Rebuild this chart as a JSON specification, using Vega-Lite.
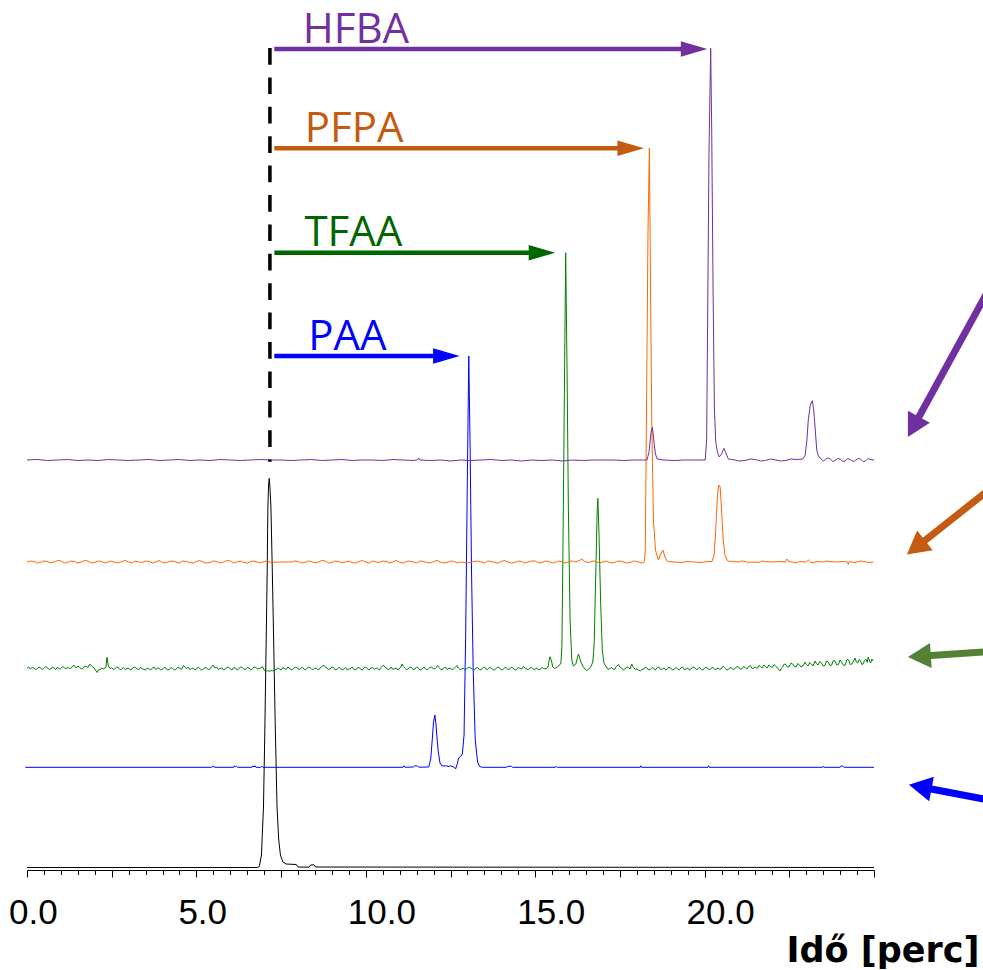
{
  "$schema": "https://vega.github.io/schema/vega-lite/v6.json",
  "width": 847,
  "height": 860,
  "autosize": "none",
  "padding": {"left": 27, "top": 10, "right": 109, "bottom": 100},
  "background": "white",
  "config": {"view": {"stroke": null}},
  "datasets": {
    "ref": [
      {"t":0,"v":0.25},{"t":6.8,"v":0.25},{"t":6.86,"v":0.35},{"t":6.92,"v":1.5},{"t":6.98,"v":6.3},{"t":7.02,"v":14},{"t":7.06,"v":23},{"t":7.09,"v":30},{"t":7.11,"v":36.3},{"t":7.13,"v":38.5},{"t":7.15,"v":39.17},{"t":7.17,"v":38.3},{"t":7.2,"v":36.3},{"t":7.24,"v":30},{"t":7.28,"v":23},{"t":7.33,"v":14},{"t":7.38,"v":6.3},{"t":7.43,"v":3},{"t":7.48,"v":1.5},{"t":7.55,"v":0.8},{"t":7.65,"v":0.6},{"t":7.95,"v":0.55},{"t":8.0,"v":0.3},{"t":8.32,"v":0.28},{"t":8.37,"v":0.5},{"t":8.47,"v":0.52},{"t":8.52,"v":0.3},{"t":25,"v":0.25}
    ],
    "paa": [
      {"t":-0.05,"v":10.27},{"t":5.45,"v":10.27},{"t":5.5,"v":10.42},{"t":5.53,"v":10.27},{"t":6.1,"v":10.27},{"t":6.12,"v":10.42},{"t":6.15,"v":10.3},{"t":6.18,"v":10.4},{"t":6.22,"v":10.27},{"t":6.64,"v":10.27},{"t":6.66,"v":10.4},{"t":6.7,"v":10.32},{"t":6.73,"v":10.42},{"t":6.76,"v":10.27},{"t":6.9,"v":10.27},{"t":6.93,"v":10.38},{"t":6.96,"v":10.27},{"t":11.1,"v":10.27},{"t":11.13,"v":10.42},{"t":11.16,"v":10.27},{"t":11.4,"v":10.3},{"t":11.44,"v":10.42},{"t":11.52,"v":10.42},{"t":11.56,"v":10.28},{"t":11.86,"v":10.3},{"t":11.92,"v":11.2},{"t":11.96,"v":13},{"t":12.0,"v":14.8},{"t":12.04,"v":15.5},{"t":12.07,"v":14.6},{"t":12.1,"v":13.3},{"t":12.14,"v":11.8},{"t":12.19,"v":10.7},{"t":12.25,"v":10.4},{"t":12.35,"v":10.42},{"t":12.45,"v":10.35},{"t":12.5,"v":10.42},{"t":12.6,"v":10.3},{"t":12.65,"v":10.1},{"t":12.7,"v":10.6},{"t":12.74,"v":11.2},{"t":12.8,"v":11.35},{"t":12.85,"v":11.6},{"t":12.9,"v":13.5},{"t":12.95,"v":24},{"t":13.0,"v":40},{"t":13.04,"v":51.4},{"t":13.08,"v":42},{"t":13.12,"v":30},{"t":13.17,"v":20},{"t":13.23,"v":13},{"t":13.3,"v":10.8},{"t":13.36,"v":10.35},{"t":13.45,"v":10.27},{"t":14.15,"v":10.27},{"t":14.2,"v":10.37},{"t":14.3,"v":10.37},{"t":14.33,"v":10.27},{"t":15.6,"v":10.27},{"t":15.62,"v":10.37},{"t":15.65,"v":10.27},{"t":18.1,"v":10.27},{"t":18.12,"v":10.42},{"t":18.14,"v":10.27},{"t":20.1,"v":10.27},{"t":20.12,"v":10.42},{"t":20.14,"v":10.27},{"t":23.48,"v":10.27},{"t":23.5,"v":10.37},{"t":23.52,"v":10.27},{"t":24.0,"v":10.27},{"t":24.03,"v":10.42},{"t":24.08,"v":10.37},{"t":24.12,"v":10.27},{"t":25,"v":10.27}
    ],
    "tfaa": [
      {"t":0.0,"v":20.15},{"t":0.05,"v":20.3},{"t":0.1,"v":20.1},{"t":0.15,"v":20.25},{"t":0.2,"v":20.2},{"t":0.25,"v":20.05},{"t":0.3,"v":20.12},{"t":0.35,"v":20.3},{"t":0.4,"v":20.22},{"t":0.45,"v":20.05},{"t":0.5,"v":20.15},{"t":0.55,"v":20.35},{"t":0.6,"v":20.25},{"t":0.65,"v":20.05},{"t":0.7,"v":20.1},{"t":0.75,"v":20.3},{"t":0.8,"v":20.2},{"t":0.85,"v":20.05},{"t":0.9,"v":20.28},{"t":0.95,"v":20.1},{"t":1.0,"v":20.15},{"t":1.05,"v":20.35},{"t":1.1,"v":20.22},{"t":1.15,"v":20.1},{"t":1.2,"v":20.3},{"t":1.25,"v":20.12},{"t":1.3,"v":20.18},{"t":1.38,"v":20.5},{"t":1.45,"v":20.2},{"t":1.5,"v":20.4},{"t":1.55,"v":20.3},{"t":1.6,"v":20.1},{"t":1.65,"v":20.15},{"t":1.7,"v":20.4},{"t":1.75,"v":20.35},{"t":1.8,"v":20.25},{"t":1.85,"v":20.6},{"t":1.9,"v":20.4},{"t":1.95,"v":20.3},{"t":2.0,"v":20.1},{"t":2.07,"v":19.75},{"t":2.12,"v":20.05},{"t":2.15,"v":20.0},{"t":2.2,"v":20.2},{"t":2.25,"v":20.1},{"t":2.33,"v":20.3},{"t":2.36,"v":21.27},{"t":2.4,"v":20.4},{"t":2.45,"v":20.15},{"t":2.5,"v":20.25},{"t":2.55,"v":20.05},{"t":2.6,"v":20.15},{"t":2.65,"v":20.3},{"t":2.7,"v":20.2},{"t":2.75,"v":20.05},{"t":2.8,"v":20.1},{"t":2.85,"v":20.25},{"t":2.9,"v":20.05},{"t":2.95,"v":20.15},{"t":3.0,"v":20.2},{"t":3.05,"v":20.0},{"t":3.1,"v":20.1},{"t":3.15,"v":20.3},{"t":3.2,"v":20.25},{"t":3.25,"v":20.1},{"t":3.3,"v":20.05},{"t":3.35,"v":20.25},{"t":3.4,"v":20.15},{"t":3.45,"v":20.05},{"t":3.5,"v":20.0},{"t":3.55,"v":20.2},{"t":3.6,"v":20.1},{"t":3.65,"v":20.0},{"t":3.7,"v":20.2},{"t":3.75,"v":20.3},{"t":3.8,"v":20.05},{"t":3.85,"v":20.2},{"t":3.9,"v":20.15},{"t":3.95,"v":20.0},{"t":4.0,"v":20.1},{"t":4.05,"v":20.25},{"t":4.1,"v":20.2},{"t":4.15,"v":20.0},{"t":4.2,"v":20.05},{"t":4.25,"v":20.25},{"t":4.3,"v":20.15},{"t":4.35,"v":20.0},{"t":4.4,"v":20.1},{"t":4.45,"v":20.25},{"t":4.5,"v":20.2},{"t":4.56,"v":20.05},{"t":4.62,"v":20.45},{"t":4.67,"v":20.25},{"t":4.7,"v":20.15},{"t":4.75,"v":20.3},{"t":4.8,"v":20.05},{"t":4.85,"v":20.15},{"t":4.9,"v":20.2},{"t":4.95,"v":20.0},{"t":5.0,"v":20.1},{"t":5.05,"v":20.3},{"t":5.1,"v":20.15},{"t":5.15,"v":20.0},{"t":5.2,"v":20.05},{"t":5.25,"v":20.25},{"t":5.3,"v":20.2},{"t":5.35,"v":20.05},{"t":5.4,"v":20.1},{"t":5.49,"v":20.5},{"t":5.55,"v":20.2},{"t":5.6,"v":20.3},{"t":5.65,"v":20.05},{"t":5.7,"v":20.15},{"t":5.75,"v":20.2},{"t":5.8,"v":20.0},{"t":5.85,"v":20.1},{"t":5.9,"v":20.25},{"t":5.95,"v":20.3},{"t":6.0,"v":20.1},{"t":6.05,"v":20.0},{"t":6.1,"v":20.25},{"t":6.15,"v":20.2},{"t":6.2,"v":20.0},{"t":6.25,"v":20.1},{"t":6.3,"v":20.3},{"t":6.35,"v":20.25},{"t":6.4,"v":20.1},{"t":6.45,"v":20.05},{"t":6.5,"v":20.25},{"t":6.55,"v":20.2},{"t":6.6,"v":20.0},{"t":6.65,"v":20.1},{"t":6.7,"v":20.3},{"t":6.75,"v":20.25},{"t":6.8,"v":20.1},{"t":6.85,"v":20.15},{"t":6.9,"v":20.2},{"t":6.95,"v":20.35},{"t":7.0,"v":20.0},{"t":7.05,"v":19.85},{"t":7.1,"v":19.95},{"t":7.15,"v":19.85},{"t":7.2,"v":19.95},{"t":7.25,"v":19.9},{"t":7.3,"v":20.05},{"t":7.35,"v":20.0},{"t":7.4,"v":20.2},{"t":7.45,"v":20.1},{"t":7.5,"v":20.0},{"t":7.55,"v":20.25},{"t":7.6,"v":20.15},{"t":7.65,"v":20.05},{"t":7.7,"v":20.3},{"t":7.75,"v":20.2},{"t":7.8,"v":20.0},{"t":7.85,"v":20.1},{"t":7.9,"v":20.25},{"t":7.95,"v":20.3},{"t":8.0,"v":20.1},{"t":8.05,"v":20.05},{"t":8.1,"v":20.25},{"t":8.15,"v":20.2},{"t":8.2,"v":20.0},{"t":8.25,"v":20.1},{"t":8.3,"v":20.3},{"t":8.35,"v":20.25},{"t":8.4,"v":20.1},{"t":8.45,"v":20.05},{"t":8.5,"v":20.2},{"t":8.55,"v":20.15},{"t":8.6,"v":20.0},{"t":8.65,"v":20.2},{"t":8.7,"v":20.3},{"t":8.75,"v":20.5},{"t":8.8,"v":20.3},{"t":8.85,"v":20.2},{"t":8.9,"v":20.05},{"t":8.95,"v":20.1},{"t":9.0,"v":20.3},{"t":9.05,"v":20.25},{"t":9.1,"v":20.0},{"t":9.15,"v":20.05},{"t":9.2,"v":20.25},{"t":9.25,"v":20.2},{"t":9.3,"v":20.0},{"t":9.35,"v":20.1},{"t":9.4,"v":20.25},{"t":9.45,"v":20.0},{"t":9.5,"v":20.1},{"t":9.55,"v":20.15},{"t":9.6,"v":20.3},{"t":9.65,"v":20.05},{"t":9.7,"v":20.0},{"t":9.75,"v":20.2},{"t":9.8,"v":20.25},{"t":9.85,"v":20.1},{"t":9.9,"v":20.0},{"t":9.95,"v":20.25},{"t":10.0,"v":20.3},{"t":10.05,"v":20.1},{"t":10.1,"v":20.0},{"t":10.15,"v":20.2},{"t":10.2,"v":20.25},{"t":10.25,"v":20.05},{"t":10.3,"v":20.2},{"t":10.35,"v":20.15},{"t":10.4,"v":20.0},{"t":10.45,"v":20.25},{"t":10.52,"v":20.5},{"t":10.56,"v":20.3},{"t":10.6,"v":20.2},{"t":10.65,"v":20.05},{"t":10.7,"v":20.1},{"t":10.75,"v":20.3},{"t":10.8,"v":20.05},{"t":10.85,"v":20.15},{"t":10.9,"v":20.2},{"t":10.94,"v":20.0},{"t":10.98,"v":20.1},{"t":11.03,"v":20.3},{"t":11.07,"v":20.6},{"t":11.11,"v":20.35},{"t":11.15,"v":20.2},{"t":11.2,"v":20.05},{"t":11.25,"v":20.1},{"t":11.3,"v":20.3},{"t":11.35,"v":20.25},{"t":11.4,"v":20.05},{"t":11.45,"v":20.1},{"t":11.5,"v":20.3},{"t":11.55,"v":20.2},{"t":11.6,"v":20.0},{"t":11.65,"v":20.05},{"t":11.7,"v":20.25},{"t":11.75,"v":20.2},{"t":11.8,"v":20.0},{"t":11.85,"v":20.15},{"t":11.9,"v":20.25},{"t":11.95,"v":20.3},{"t":12.0,"v":20.1},{"t":12.05,"v":20.15},{"t":12.12,"v":20.45},{"t":12.16,"v":20.25},{"t":12.2,"v":20.1},{"t":12.25,"v":20.0},{"t":12.3,"v":20.2},{"t":12.35,"v":20.3},{"t":12.4,"v":20.05},{"t":12.45,"v":20.15},{"t":12.5,"v":20.2},{"t":12.55,"v":20.0},{"t":12.6,"v":20.15},{"t":12.65,"v":20.3},{"t":12.69,"v":20.45},{"t":12.73,"v":20.2},{"t":12.78,"v":20.05},{"t":12.83,"v":20.1},{"t":12.88,"v":20.2},{"t":12.93,"v":20.0},{"t":12.98,"v":20.15},{"t":13.05,"v":20.3},{"t":13.1,"v":20.2},{"t":13.15,"v":20.1},{"t":13.2,"v":20.0},{"t":13.25,"v":20.2},{"t":13.3,"v":20.25},{"t":13.35,"v":20.05},{"t":13.4,"v":20.0},{"t":13.45,"v":20.2},{"t":13.5,"v":20.3},{"t":13.55,"v":20.1},{"t":13.6,"v":20.05},{"t":13.65,"v":20.25},{"t":13.7,"v":20.2},{"t":13.75,"v":20.05},{"t":13.8,"v":20.0},{"t":13.85,"v":20.15},{"t":13.9,"v":20.3},{"t":13.95,"v":20.2},{"t":14.0,"v":20.0},{"t":14.05,"v":20.05},{"t":14.1,"v":20.25},{"t":14.15,"v":20.2},{"t":14.2,"v":20.05},{"t":14.25,"v":20.1},{"t":14.3,"v":20.3},{"t":14.35,"v":20.2},{"t":14.4,"v":20.0},{"t":14.45,"v":20.05},{"t":14.5,"v":20.25},{"t":14.55,"v":20.15},{"t":14.6,"v":20.1},{"t":14.65,"v":20.35},{"t":14.7,"v":20.2},{"t":14.75,"v":20.1},{"t":14.8,"v":20.05},{"t":14.85,"v":20.2},{"t":14.9,"v":20.25},{"t":14.95,"v":20.05},{"t":15.0,"v":20.1},{"t":15.05,"v":20.2},{"t":15.1,"v":20.0},{"t":15.15,"v":20.1},{"t":15.2,"v":20.25},{"t":15.25,"v":20.15},{"t":15.32,"v":20.1},{"t":15.38,"v":20.3},{"t":15.41,"v":21.0},{"t":15.44,"v":21.33},{"t":15.48,"v":20.9},{"t":15.52,"v":20.3},{"t":15.58,"v":20.15},{"t":15.65,"v":20.3},{"t":15.72,"v":20.5},{"t":15.76,"v":20.7},{"t":15.79,"v":22.5},{"t":15.83,"v":36},{"t":15.87,"v":51},{"t":15.9,"v":61.73},{"t":15.94,"v":50},{"t":15.98,"v":36},{"t":16.03,"v":25},{"t":16.08,"v":21.0},{"t":16.13,"v":20.4},{"t":16.2,"v":20.6},{"t":16.25,"v":21.3},{"t":16.28,"v":21.6},{"t":16.33,"v":21.0},{"t":16.4,"v":20.4},{"t":16.47,"v":20.1},{"t":16.52,"v":19.95},{"t":16.58,"v":20.1},{"t":16.64,"v":20.3},{"t":16.7,"v":20.8},{"t":16.74,"v":22.5},{"t":16.79,"v":30},{"t":16.83,"v":36},{"t":16.85,"v":37.17},{"t":16.88,"v":34},{"t":16.93,"v":27},{"t":16.98,"v":22},{"t":17.03,"v":20.7},{"t":17.1,"v":20.3},{"t":17.15,"v":20.05},{"t":17.2,"v":20.15},{"t":17.25,"v":20.25},{"t":17.3,"v":20.1},{"t":17.34,"v":20.05},{"t":17.38,"v":20.3},{"t":17.46,"v":20.55},{"t":17.5,"v":20.3},{"t":17.55,"v":20.2},{"t":17.6,"v":20.0},{"t":17.65,"v":20.1},{"t":17.7,"v":20.3},{"t":17.75,"v":20.25},{"t":17.8,"v":20.1},{"t":17.85,"v":20.6},{"t":17.88,"v":20.35},{"t":17.92,"v":20.2},{"t":17.96,"v":20.05},{"t":18.0,"v":20.1},{"t":18.05,"v":20.0},{"t":18.1,"v":19.9},{"t":18.15,"v":20.05},{"t":18.2,"v":20.1},{"t":18.25,"v":20.3},{"t":18.3,"v":20.2},{"t":18.35,"v":20.0},{"t":18.4,"v":20.05},{"t":18.45,"v":20.25},{"t":18.5,"v":20.15},{"t":18.55,"v":20.0},{"t":18.6,"v":20.25},{"t":18.65,"v":20.3},{"t":18.7,"v":20.05},{"t":18.75,"v":20.1},{"t":18.8,"v":20.2},{"t":18.85,"v":20.0},{"t":18.9,"v":20.1},{"t":18.95,"v":20.3},{"t":19.0,"v":20.2},{"t":19.05,"v":20.0},{"t":19.1,"v":20.05},{"t":19.15,"v":20.25},{"t":19.2,"v":20.15},{"t":19.25,"v":20.0},{"t":19.3,"v":20.2},{"t":19.35,"v":20.3},{"t":19.4,"v":20.05},{"t":19.45,"v":20.1},{"t":19.5,"v":20.2},{"t":19.55,"v":20.0},{"t":19.6,"v":20.1},{"t":19.65,"v":20.3},{"t":19.7,"v":20.25},{"t":19.75,"v":20.05},{"t":19.8,"v":20.1},{"t":19.85,"v":20.25},{"t":19.9,"v":20.05},{"t":19.95,"v":20.0},{"t":20.0,"v":20.2},{"t":20.05,"v":20.3},{"t":20.1,"v":20.1},{"t":20.15,"v":20.0},{"t":20.2,"v":20.2},{"t":20.25,"v":20.25},{"t":20.3,"v":20.05},{"t":20.35,"v":20.1},{"t":20.4,"v":20.2},{"t":20.45,"v":20.05},{"t":20.5,"v":20.15},{"t":20.55,"v":20.4},{"t":20.58,"v":20.3},{"t":20.62,"v":20.15},{"t":20.66,"v":20.0},{"t":20.7,"v":20.05},{"t":20.75,"v":20.25},{"t":20.8,"v":20.2},{"t":20.85,"v":20.05},{"t":20.9,"v":20.15},{"t":20.95,"v":20.35},{"t":21.0,"v":20.3},{"t":21.05,"v":20.1},{"t":21.1,"v":20.1},{"t":21.15,"v":20.35},{"t":21.2,"v":20.25},{"t":21.25,"v":20.1},{"t":21.3,"v":20.35},{"t":21.35,"v":20.45},{"t":21.4,"v":20.15},{"t":21.45,"v":20.2},{"t":21.5,"v":20.3},{"t":21.55,"v":20.15},{"t":21.6,"v":20.45},{"t":21.65,"v":20.35},{"t":21.7,"v":20.2},{"t":21.75,"v":20.5},{"t":21.8,"v":20.35},{"t":21.85,"v":20.2},{"t":21.9,"v":20.5},{"t":21.95,"v":20.35},{"t":22.0,"v":20.25},{"t":22.05,"v":20.55},{"t":22.1,"v":20.4},{"t":22.15,"v":20.2},{"t":22.23,"v":19.9},{"t":22.27,"v":20.2},{"t":22.3,"v":20.3},{"t":22.35,"v":20.6},{"t":22.4,"v":20.55},{"t":22.45,"v":20.3},{"t":22.5,"v":20.35},{"t":22.55,"v":20.7},{"t":22.6,"v":20.6},{"t":22.65,"v":20.35},{"t":22.7,"v":20.3},{"t":22.75,"v":20.65},{"t":22.8,"v":20.5},{"t":22.85,"v":20.3},{"t":22.9,"v":20.4},{"t":22.97,"v":20.8},{"t":23.0,"v":20.55},{"t":23.05,"v":20.4},{"t":23.1,"v":20.75},{"t":23.15,"v":20.6},{"t":23.2,"v":20.4},{"t":23.26,"v":20.9},{"t":23.3,"v":20.65},{"t":23.35,"v":20.5},{"t":23.4,"v":20.85},{"t":23.45,"v":20.7},{"t":23.5,"v":20.4},{"t":23.55,"v":20.45},{"t":23.6,"v":20.9},{"t":23.65,"v":20.8},{"t":23.7,"v":20.45},{"t":23.75,"v":20.5},{"t":23.8,"v":20.95},{"t":23.85,"v":20.9},{"t":23.9,"v":20.5},{"t":23.95,"v":20.55},{"t":24.0,"v":21.0},{"t":24.05,"v":20.75},{"t":24.1,"v":20.45},{"t":24.15,"v":20.5},{"t":24.2,"v":21.05},{"t":24.25,"v":21.0},{"t":24.3,"v":20.55},{"t":24.35,"v":20.6},{"t":24.4,"v":20.9},{"t":24.44,"v":21.2},{"t":24.48,"v":20.8},{"t":24.52,"v":20.7},{"t":24.56,"v":21.05},{"t":24.6,"v":20.95},{"t":24.64,"v":20.55},{"t":24.68,"v":20.6},{"t":24.72,"v":20.95},{"t":24.76,"v":21.1},{"t":24.8,"v":20.75},{"t":24.83,"v":21.3},{"t":24.87,"v":20.9},{"t":24.9,"v":20.7},{"t":24.94,"v":21.1},{"t":24.98,"v":20.9}
    ],
    "pfpa": [
      {"t":0,"v":30.8},{"t":0.1,"v":30.9},{"t":0.2,"v":30.85},{"t":0.3,"v":30.7},{"t":0.4,"v":30.75},{"t":0.5,"v":30.9},{"t":0.6,"v":30.85},{"t":0.7,"v":30.7},{"t":0.8,"v":30.8},{"t":0.9,"v":30.95},{"t":1.0,"v":30.9},{"t":1.1,"v":30.7},{"t":1.2,"v":30.75},{"t":1.3,"v":30.9},{"t":1.4,"v":30.85},{"t":1.5,"v":30.7},{"t":1.6,"v":30.8},{"t":1.7,"v":30.95},{"t":1.8,"v":30.9},{"t":1.9,"v":30.7},{"t":2.0,"v":30.75},{"t":2.1,"v":30.9},{"t":2.2,"v":30.85},{"t":2.3,"v":30.7},{"t":2.4,"v":30.8},{"t":2.5,"v":30.9},{"t":2.6,"v":30.75},{"t":2.7,"v":30.7},{"t":2.8,"v":30.85},{"t":2.9,"v":30.95},{"t":3.0,"v":30.8},{"t":3.1,"v":30.7},{"t":3.2,"v":30.9},{"t":3.3,"v":30.8},{"t":3.4,"v":30.75},{"t":3.5,"v":30.9},{"t":3.6,"v":30.85},{"t":3.7,"v":30.7},{"t":3.8,"v":30.8},{"t":3.9,"v":30.95},{"t":4.0,"v":30.75},{"t":4.1,"v":30.7},{"t":4.2,"v":30.85},{"t":4.3,"v":30.9},{"t":4.4,"v":30.8},{"t":4.5,"v":30.7},{"t":4.6,"v":30.9},{"t":4.7,"v":30.85},{"t":4.8,"v":30.75},{"t":4.9,"v":30.7},{"t":5.0,"v":30.85},{"t":5.1,"v":30.95},{"t":5.2,"v":30.8},{"t":5.3,"v":30.7},{"t":5.4,"v":30.75},{"t":5.5,"v":30.9},{"t":5.6,"v":30.85},{"t":5.7,"v":30.7},{"t":5.8,"v":30.8},{"t":5.9,"v":30.95},{"t":6.0,"v":30.9},{"t":6.1,"v":30.7},{"t":6.2,"v":30.8},{"t":6.3,"v":30.9},{"t":6.4,"v":30.75},{"t":6.5,"v":30.7},{"t":6.6,"v":30.85},{"t":6.7,"v":30.9},{"t":6.8,"v":30.8},{"t":6.9,"v":30.7},{"t":7.0,"v":30.85},{"t":7.1,"v":30.9},{"t":7.2,"v":30.75},{"t":7.4,"v":30.8},{"t":7.6,"v":30.8},{"t":7.8,"v":30.8},{"t":7.9,"v":30.9},{"t":8.0,"v":30.85},{"t":8.1,"v":30.7},{"t":8.2,"v":30.75},{"t":8.3,"v":30.9},{"t":8.4,"v":30.85},{"t":8.5,"v":30.7},{"t":8.6,"v":30.8},{"t":8.7,"v":30.95},{"t":8.8,"v":30.9},{"t":8.9,"v":30.7},{"t":9.0,"v":30.75},{"t":9.1,"v":30.9},{"t":9.2,"v":30.85},{"t":9.3,"v":30.7},{"t":9.4,"v":30.8},{"t":9.5,"v":30.9},{"t":9.6,"v":30.75},{"t":9.7,"v":30.7},{"t":9.8,"v":30.85},{"t":9.9,"v":30.95},{"t":10.0,"v":30.8},{"t":10.1,"v":30.7},{"t":10.2,"v":30.9},{"t":10.3,"v":30.8},{"t":10.4,"v":30.75},{"t":10.5,"v":30.9},{"t":10.6,"v":30.85},{"t":10.7,"v":30.7},{"t":10.8,"v":30.8},{"t":10.9,"v":30.95},{"t":11.0,"v":30.75},{"t":11.1,"v":30.7},{"t":11.2,"v":30.85},{"t":11.3,"v":30.9},{"t":11.4,"v":30.8},{"t":11.5,"v":30.7},{"t":11.6,"v":30.9},{"t":11.7,"v":30.85},{"t":11.8,"v":30.75},{"t":11.9,"v":30.7},{"t":12.0,"v":30.85},{"t":12.1,"v":30.95},{"t":12.2,"v":30.8},{"t":12.3,"v":30.7},{"t":12.4,"v":30.75},{"t":12.5,"v":30.9},{"t":12.6,"v":30.85},{"t":12.7,"v":30.7},{"t":12.8,"v":30.8},{"t":13.0,"v":30.7},{"t":13.2,"v":30.85},{"t":13.3,"v":30.9},{"t":13.4,"v":30.8},{"t":13.5,"v":30.7},{"t":13.6,"v":30.9},{"t":13.7,"v":30.85},{"t":13.8,"v":30.75},{"t":13.9,"v":30.7},{"t":14.0,"v":30.85},{"t":14.1,"v":30.95},{"t":14.2,"v":30.8},{"t":14.3,"v":30.7},{"t":14.4,"v":30.75},{"t":14.5,"v":30.9},{"t":14.6,"v":30.85},{"t":14.7,"v":30.7},{"t":14.8,"v":30.8},{"t":14.9,"v":30.9},{"t":15.0,"v":30.9},{"t":15.1,"v":30.7},{"t":15.2,"v":30.75},{"t":15.3,"v":30.9},{"t":15.4,"v":30.85},{"t":15.5,"v":30.7},{"t":15.6,"v":30.75},{"t":15.7,"v":30.9},{"t":15.8,"v":30.8},{"t":15.9,"v":30.7},{"t":16.0,"v":30.85},{"t":16.1,"v":30.9},{"t":16.2,"v":30.8},{"t":16.33,"v":31.0},{"t":16.38,"v":31.1},{"t":16.45,"v":30.85},{"t":16.6,"v":30.75},{"t":16.7,"v":30.9},{"t":16.8,"v":30.85},{"t":16.9,"v":30.7},{"t":17.0,"v":30.8},{"t":17.1,"v":30.9},{"t":17.2,"v":30.75},{"t":17.3,"v":30.7},{"t":17.4,"v":30.85},{"t":17.5,"v":30.9},{"t":17.6,"v":30.8},{"t":17.7,"v":30.7},{"t":17.8,"v":30.75},{"t":17.9,"v":30.9},{"t":18.0,"v":30.85},{"t":18.15,"v":30.7},{"t":18.22,"v":30.8},{"t":18.25,"v":32},{"t":18.29,"v":48},{"t":18.33,"v":64},{"t":18.37,"v":72.17},{"t":18.4,"v":60},{"t":18.44,"v":45},{"t":18.49,"v":35},{"t":18.55,"v":32},{"t":18.6,"v":31.4},{"t":18.64,"v":31.0},{"t":18.7,"v":31.6},{"t":18.77,"v":32.0},{"t":18.83,"v":31.3},{"t":18.9,"v":30.85},{"t":19.1,"v":30.8},{"t":19.3,"v":30.75},{"t":19.5,"v":30.85},{"t":19.7,"v":30.8},{"t":19.9,"v":30.75},{"t":20.1,"v":30.85},{"t":20.22,"v":30.85},{"t":20.28,"v":31.5},{"t":20.33,"v":34},{"t":20.38,"v":37.5},{"t":20.42,"v":38.5},{"t":20.46,"v":38.3},{"t":20.5,"v":36},{"t":20.55,"v":33},{"t":20.6,"v":31.5},{"t":20.68,"v":30.9},{"t":20.8,"v":30.85},{"t":21.0,"v":30.8},{"t":21.1,"v":30.9},{"t":21.2,"v":30.85},{"t":21.3,"v":30.75},{"t":21.4,"v":30.8},{"t":21.6,"v":30.75},{"t":21.7,"v":30.9},{"t":21.8,"v":30.85},{"t":22.0,"v":30.8},{"t":22.2,"v":30.85},{"t":22.38,"v":30.8},{"t":22.43,"v":31.1},{"t":22.48,"v":30.85},{"t":22.6,"v":30.8},{"t":22.7,"v":30.7},{"t":22.8,"v":30.85},{"t":23.0,"v":30.8},{"t":23.06,"v":31.0},{"t":23.12,"v":30.8},{"t":23.2,"v":30.7},{"t":23.3,"v":30.85},{"t":23.5,"v":30.8},{"t":23.6,"v":30.9},{"t":23.7,"v":30.85},{"t":23.9,"v":30.8},{"t":24.1,"v":30.85},{"t":24.22,"v":30.8},{"t":24.24,"v":30.55},{"t":24.27,"v":30.85},{"t":24.4,"v":30.75},{"t":24.5,"v":30.8},{"t":24.6,"v":30.9},{"t":24.7,"v":30.85},{"t":24.85,"v":30.75},{"t":24.98,"v":30.8}
    ],
    "hfba": [
      {"t":0,"v":41.0},{"t":0.3,"v":41.05},{"t":0.6,"v":40.95},{"t":0.9,"v":41.0},{"t":1.2,"v":41.05},{"t":1.5,"v":40.95},{"t":1.8,"v":41.0},{"t":2.1,"v":40.95},{"t":2.4,"v":41.05},{"t":2.7,"v":41.0},{"t":3.0,"v":40.95},{"t":3.3,"v":41.0},{"t":3.6,"v":41.05},{"t":3.9,"v":40.95},{"t":4.2,"v":41.0},{"t":4.5,"v":41.05},{"t":4.8,"v":40.95},{"t":5.1,"v":41.0},{"t":5.4,"v":40.95},{"t":5.7,"v":41.05},{"t":6.0,"v":41.0},{"t":6.3,"v":40.95},{"t":6.6,"v":41.0},{"t":6.9,"v":41.05},{"t":7.2,"v":41.0},{"t":7.5,"v":41.0},{"t":7.8,"v":40.95},{"t":8.1,"v":41.0},{"t":8.4,"v":41.05},{"t":8.7,"v":40.95},{"t":9.0,"v":41.0},{"t":9.3,"v":41.05},{"t":9.6,"v":40.95},{"t":9.9,"v":41.0},{"t":10.2,"v":41.0},{"t":10.5,"v":40.95},{"t":10.8,"v":41.05},{"t":11.1,"v":41.0},{"t":11.4,"v":40.95},{"t":11.52,"v":41.0},{"t":11.56,"v":41.2},{"t":11.6,"v":41.0},{"t":11.9,"v":40.95},{"t":12.2,"v":41.0},{"t":12.5,"v":40.9},{"t":12.8,"v":41.0},{"t":13.1,"v":40.95},{"t":13.4,"v":41.0},{"t":13.7,"v":41.05},{"t":14.0,"v":40.95},{"t":14.3,"v":41.0},{"t":14.6,"v":40.9},{"t":14.9,"v":41.0},{"t":15.2,"v":40.95},{"t":15.5,"v":41.0},{"t":15.8,"v":40.9},{"t":16.1,"v":41.0},{"t":16.4,"v":40.95},{"t":16.7,"v":41.0},{"t":17.0,"v":41.0},{"t":17.3,"v":41.0},{"t":17.6,"v":40.95},{"t":17.9,"v":41.0},{"t":18.2,"v":41.0},{"t":18.3,"v":41.0},{"t":18.36,"v":41.8},{"t":18.42,"v":43.8},{"t":18.46,"v":44.27},{"t":18.5,"v":43},{"t":18.55,"v":41.6},{"t":18.6,"v":41.1},{"t":18.8,"v":41.0},{"t":19.1,"v":40.95},{"t":19.4,"v":41.0},{"t":19.7,"v":41.0},{"t":19.95,"v":41.0},{"t":20.02,"v":41.0},{"t":20.06,"v":43},{"t":20.09,"v":55},{"t":20.13,"v":72},{"t":20.18,"v":82.17},{"t":20.21,"v":74},{"t":20.25,"v":58},{"t":20.29,"v":46},{"t":20.33,"v":42.8},{"t":20.38,"v":41.8},{"t":20.43,"v":41.3},{"t":20.5,"v":41.6},{"t":20.57,"v":42.17},{"t":20.63,"v":41.7},{"t":20.7,"v":41.1},{"t":20.9,"v":41.0},{"t":21.0,"v":40.9},{"t":21.2,"v":40.95},{"t":21.35,"v":41.1},{"t":21.5,"v":41.05},{"t":21.65,"v":40.9},{"t":21.8,"v":40.95},{"t":21.95,"v":41.1},{"t":22.1,"v":41.0},{"t":22.25,"v":40.9},{"t":22.4,"v":40.95},{"t":22.55,"v":41.1},{"t":22.7,"v":41.05},{"t":22.9,"v":41.1},{"t":22.97,"v":41.5},{"t":23.02,"v":43},{"t":23.06,"v":45},{"t":23.12,"v":46.5},{"t":23.18,"v":46.93},{"t":23.22,"v":46},{"t":23.26,"v":44.3},{"t":23.31,"v":42},{"t":23.36,"v":41.4},{"t":23.41,"v":41.2},{"t":23.5,"v":40.9},{"t":23.55,"v":41.0},{"t":23.62,"v":41.2},{"t":23.7,"v":41.15},{"t":23.78,"v":40.85},{"t":23.85,"v":40.95},{"t":23.92,"v":41.15},{"t":24.0,"v":41.1},{"t":24.08,"v":40.85},{"t":24.15,"v":40.9},{"t":24.22,"v":41.15},{"t":24.3,"v":41.05},{"t":24.38,"v":40.85},{"t":24.45,"v":40.95},{"t":24.52,"v":41.15},{"t":24.6,"v":41.1},{"t":24.68,"v":40.85},{"t":24.75,"v":40.9},{"t":24.82,"v":41.15},{"t":24.9,"v":41.05},{"t":25.0,"v":41.0}
    ],
    "marker": [{"t": 7.17, "v": 82.2, "v2": 40.83}],
    "arrows": [
      {"label": "HFBA", "t": 7.3, "t2": 19.7, "v": 82.1},
      {"label": "PFPA", "t": 7.3, "t2": 17.83, "v": 72.17},
      {"label": "TFAA", "t": 7.3, "t2": 15.21, "v": 61.73},
      {"label": "PAA", "t": 7.3, "t2": 12.39, "v": 51.4}
    ],
    "heads": [
      {"label": "HFBA", "t": 20.08, "v": 82.1},
      {"label": "PFPA", "t": 18.21, "v": 72.17},
      {"label": "TFAA", "t": 15.59, "v": 61.73},
      {"label": "PAA", "t": 12.77, "v": 51.4}
    ],
    "labels": [
      {"label": "HFBA", "t": 8.14, "v": 82.1},
      {"label": "PFPA", "t": 8.2, "v": 72.17},
      {"label": "TFAA", "t": 8.19, "v": 61.73},
      {"label": "PAA", "t": 8.3, "v": 51.4}
    ],
    "sideShafts": [
      {"label": "HFBA", "t": 28.72, "v": 60.1, "t2": 26.17, "v2": 44.35},
      {"label": "PFPA", "t": 28.72, "v": 38.89, "t2": 26.25, "v2": 32.28},
      {"label": "TFAA", "t": 28.72, "v": 21.91, "t2": 26.36, "v2": 21.38},
      {"label": "PAA", "t": 28.72, "v": 6.79, "t2": 26.38, "v2": 8.3}
    ],
    "sideHeads": [
      {"label": "HFBA", "t": 26.0, "v": 43.3, "angle": 118.7},
      {"label": "PFPA", "t": 25.97, "v": 31.54, "angle": 141.7},
      {"label": "TFAA", "t": 26.0, "v": 21.3, "angle": 176.2},
      {"label": "PAA", "t": 26.03, "v": 8.52, "angle": 190.7}
    ]
  },
  "encoding": {
    "x": {
      "field": "t", "type": "quantitative",
      "scale": {"domain": [0, 25], "nice": false, "zero": false},
      "axis": {
        "title": "Idő [perc]",
        "values": [0,0.5,1,1.5,2,2.5,3,3.5,4,4.5,5,5.5,6,6.5,7,7.5,8,8.5,9,9.5,10,10.5,11,11.5,12,12.5,13,13.5,14,14.5,15,15.5,16,16.5,17,17.5,18,18.5,19,19.5,20,20.5,21,21.5,22,22.5,23,23.5,24,24.5,25],
        "labelExpr": "datum.value % 5 === 0 && datum.value < 24 ? format(datum.value, '.1f') : ''",
        "grid": false,
        "domainColor": "#000000", "domainWidth": 1,
        "tickColor": "#000000", "tickWidth": 1, "tickSize": 7,
        "labelFont": "Liberation Sans", "labelFontSize": 35, "labelColor": "#000000",
        "labelAlign": "left", "labelOffset": -18.5, "labelBaseline": "alphabetic", "labelPadding": 46.3,
        "labelFlush": false, "labelOverlap": false, "labelBound": false,
        "titleFont": "DejaVu Sans", "titleFontWeight": "bold", "titleFontSize": 35, "titleColor": "#000000",
        "titleAlign": "right", "titleBaseline": "alphabetic", "titleX": 952, "titleY": 91.7, "titleAngle": 0,
        "encoding": {"ticks": {"y2": {"condition": {"test": "datum.value % 2.5 === 0", "value": 7}, "value": 4.5}}}
      }
    },
    "y": {
      "field": "v", "type": "quantitative",
      "scale": {"domain": [0, 86], "nice": false, "zero": false},
      "axis": null
    }
  },
  "layer": [
    {"data": {"name": "ref"}, "mark": {"type": "line", "color": "#000000", "strokeWidth": 1}},
    {"data": {"name": "paa"}, "mark": {"type": "line", "color": "#0000FF", "strokeWidth": 1}},
    {"data": {"name": "tfaa"}, "mark": {"type": "line", "color": "#008000", "strokeWidth": 1}},
    {"data": {"name": "pfpa"}, "mark": {"type": "line", "color": "#FF6600", "strokeWidth": 1}},
    {"data": {"name": "hfba"}, "mark": {"type": "line", "color": "#7030A0", "strokeWidth": 1}},
    {"data": {"name": "marker"}, "mark": {"type": "rule", "color": "#000000", "strokeWidth": 3.5, "strokeDash": [16.7, 12.7]}, "encoding": {"y2": {"field": "v2"}}},
    {"data": {"name": "arrows"}, "mark": {"type": "rule", "strokeWidth": 4.5},
     "encoding": {"x2": {"field": "t2"}, "color": {"field": "label", "type": "nominal", "scale": {"domain": ["HFBA","PFPA","TFAA","PAA"], "range": ["#7030A0","#C55A11","#006600","#0000FF"]}, "legend": null}}},
    {"data": {"name": "heads"}, "mark": {"type": "point", "shape": "M0,0L-2.65,-0.78L-2.65,0.78Z", "size": 400, "filled": true, "opacity": 1, "strokeWidth": 0},
     "encoding": {"color": {"field": "label", "type": "nominal", "scale": {"domain": ["HFBA","PFPA","TFAA","PAA"], "range": ["#7030A0","#C55A11","#006600","#0000FF"]}, "legend": null}}},
    {"data": {"name": "labels"}, "mark": {"type": "text", "font": "Open Sans", "fontSize": 42, "align": "left", "baseline": "alphabetic", "dy": -6.5},
     "encoding": {"text": {"field": "label"}, "color": {"field": "label", "type": "nominal", "scale": {"domain": ["HFBA","PFPA","TFAA","PAA"], "range": ["#7030A0","#C55A11","#006600","#0000FF"]}, "legend": null}}},
    {"data": {"name": "sideShafts"}, "mark": {"type": "rule", "strokeWidth": 7},
     "encoding": {"x2": {"field": "t2"}, "y2": {"field": "v2"}, "color": {"field": "label", "type": "nominal", "scale": {"domain": ["HFBA","PFPA","TFAA","PAA"], "range": ["#7030A0","#C55A11","#548235","#0000FF"]}, "legend": null}}},
    {"data": {"name": "sideHeads"}, "mark": {"type": "point", "shape": "M0,0L-2.3,-1.25L-2.3,1.25Z", "size": 400, "filled": true, "opacity": 1, "strokeWidth": 0},
     "encoding": {"angle": {"field": "angle", "type": "quantitative", "scale": null}, "color": {"field": "label", "type": "nominal", "scale": {"domain": ["HFBA","PFPA","TFAA","PAA"], "range": ["#7030A0","#C55A11","#548235","#0000FF"]}, "legend": null}}}
  ],
  "resolve": {"scale": {"color": "independent"}}
}
